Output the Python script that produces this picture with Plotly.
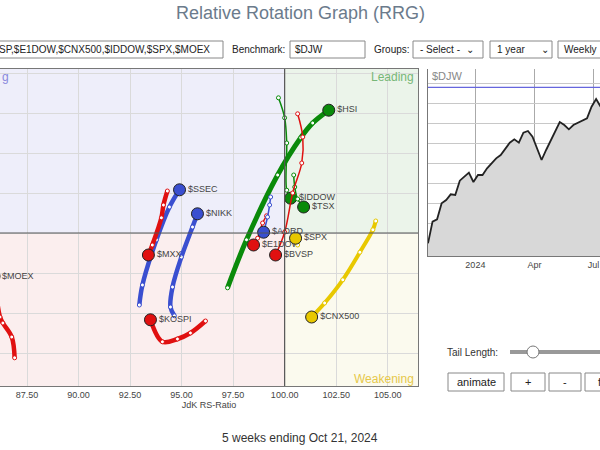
import plotly.graph_objects as go
import pandas as pd

# ---- RRG data (oldest -> newest, last is the head) ----
series = {
 "$HSI":   ([97.23,98.15,99.66,100.78,101.36,102.14],[98.63,99.83,101.45,102.38,102.75,103.07],"#0a8a0a",5),
 "$IDDOW": ([99.7,100.0,100.1,100.1,100.29],[103.38,102.88,102.25,101.07,100.87],"#0a8a0a",1.5),
 "$TSX":   ([100.44,100.49,100.63,100.92],[101.45,101.15,100.85,100.65],"#0a8a0a",1.5),
 "$BVSP":  ([100.63,100.88,100.83,100.39,100.0,99.56],[102.98,102.4,101.75,101.0,100.02,99.45],"#e01010",1.5),
 "$E1DOW": ([99.12,98.93,98.69,98.49],[100.43,100.25,99.87,99.7],"#e01010",1.5),
 "$AORD":  ([99.32,99.27,99.17,98.98],[100.9,100.7,100.4,100.02],"#3a4fd0",1.5),
 "$SPX":   ([100.63,100.53],[99.7,99.87],"#e8c800",1.5),
 "$CNX500":([104.42,104.28,103.65,102.82,101.94,101.31],[100.3,100.08,99.52,98.83,98.25,97.9],"#e8c800",4),
 "$SSEC":  ([92.95,93.1,93.78,94.41,94.9],[98.2,98.7,99.83,100.65,101.08],"#3a4fd0",4.5),
 "$NIKK":  ([94.65,94.46,94.56,94.99,95.53,95.77],[97.93,98.15,98.65,99.4,100.15,100.48],"#3a4fd0",4.5),
 "$MXX":   ([94.31,94.12,94.02,93.58,93.39],[101.05,100.7,100.38,99.7,99.45],"#e01010",4.5),
 "$KOSPI": ([96.16,95.43,94.8,94.07,93.49],[97.8,97.5,97.35,97.28,97.83],"#e01010",4.5),
 "$MOEX":  ([86.9,86.76,86.33,86.19,85.9],[96.88,97.4,97.75,97.9,98.92],"#e01010",4.5),
}

# ---- benchmark $DJW ----
djw_values = [4.0,10.5,11.2,16.0,17.0,18.7,18.5,22.8,24.0,25.2,22.4,24.5,24.5,26.5,28.0,29.5,30.5,
              32.5,34.2,35.2,34.2,37.2,37.7,36.0,32.5,29.0,32.0,34.7,37.5,40.4,39.5,38.2,39.5,40.2,
              41.0,41.5,45.0,47.3,45.0]
djw_dates = pd.date_range("2023-10-20", periods=len(djw_values), freq="7D")

def px(x): return x/600
def py(y): return 1-y/450

fig = go.Figure()
XR = [86.19, 106.47]; YR = [96.175, 104.1]
quad = [(XR[0],100,100,YR[1],"#eeeefa"),(100,100,XR[1],YR[1],"#ebf4ea"),
        (XR[0],YR[0],100,100,"#fbeeee"),(100,YR[0],XR[1],100,"#fbfaee")]
for x0,y0,x1,y1,c in quad:
    fig.add_shape(type="rect",xref="x",yref="y",x0=x0,y0=y0,x1=x1,y1=y1,fillcolor=c,line_width=0,layer="below")
fig.add_shape(type="line",xref="x",yref="y",x0=100,x1=100,y0=YR[0],y1=YR[1],line=dict(color="#555",width=1.2))
fig.add_shape(type="line",xref="x",yref="y",x0=XR[0],x1=XR[1],y0=100,y1=100,line=dict(color="#555",width=1.2))

for name,(xs,ys,col,w) in series.items():
    fig.add_trace(go.Scatter(x=xs,y=ys,mode="lines+markers",line=dict(color=col,width=w,shape="spline"),
        marker=dict(size=4,color="white",line=dict(color=col,width=1)),showlegend=False,hoverinfo="skip"))
    fig.add_trace(go.Scatter(x=[xs[-1]],y=[ys[-1]],mode="markers+text",
        text=[name if name!="$MOEX" else ""],textposition="middle right",
        textfont=dict(size=9,color="#444"),marker=dict(size=12,color=col,line=dict(color="#222",width=1)),
        showlegend=False,cliponaxis=True))
fig.add_annotation(x=XR[0],y=series["$MOEX"][1][-1],text="$MOEX",showarrow=False,xanchor="left",
                   font=dict(size=9,color="#444"))

fig.add_trace(go.Scatter(x=djw_dates,y=djw_values,mode="lines",line=dict(color="#222",width=1.8),
    fill="tozeroy",fillcolor="#d8d8d8",xaxis="x2",yaxis="y2",showlegend=False))
fig.add_shape(type="line",xref="x2 domain",yref="y2",x0=0,x1=1,y0=50.8,y1=50.8,line=dict(color="#6666dd",width=1.2))

fig.update_layout(width=600,height=450,margin=dict(l=0,r=0,t=0,b=0),paper_bgcolor="white",
    plot_bgcolor="white",font=dict(family="Liberation Sans, Arial",color="#444"),
    xaxis=dict(domain=[0,px(418)],range=XR,tickvals=[87.5,90,92.5,95,97.5,100,102.5,105],tickformat=".2f",
        gridcolor="#dadada",zeroline=False,showline=True,linecolor="#777",mirror=True,tickfont=dict(size=9),
        title=dict(text="JdK RS-Ratio",font=dict(size=9),standoff=2)),
    yaxis=dict(domain=[py(386),py(69)],range=YR,dtick=1,showticklabels=False,gridcolor="#dadada",zeroline=False,
        showline=True,linecolor="#777",mirror=True),
    xaxis2=dict(domain=[px(428),1],range=["2023-10-20","2024-07-11"],anchor="y2",
        tickvals=["2024-01-01","2024-04-01","2024-07-01"],ticktext=["2024","Apr","Jul"],tickfont=dict(size=9),
        gridcolor="#aaa",showline=True,linecolor="#777",zeroline=False),
    yaxis2=dict(domain=[py(256),py(69)],range=[0.2,56.3],anchor="x2",tick0=4,dtick=6,showticklabels=False,
        gridcolor="#c8c8c8",zeroline=False,showline=True,linecolor="#777"),
)

def ann(x,y,t,size=11,color="#444",xa="left",**k):
    fig.add_annotation(xref="paper",yref="paper",x=px(x),y=py(y),text=t,showarrow=False,xanchor=xa,
                       yanchor="middle",font=dict(size=size,color=color),**k)
def box(x0,y0,x1,y1):
    fig.add_shape(type="rect",xref="paper",yref="paper",x0=px(x0),x1=px(x1),y0=py(y1),y1=py(y0),
                  line=dict(color="#888",width=1),fillcolor="white")

ann(300,13,"Relative Rotation Graph (RRG)",size=18,color="#6b7b8c",xa="center")
box(-5,41,223,58); ann(-3,49,"SP,$E1DOW,$CNX500,$IDDOW,$SPX,$MOEX",size=10,color="#222")
ann(230,49,"Benchmark:",size=10,color="#222")
box(290,41,365,58); ann(293,49,"$DJW",size=10,color="#222")
ann(372,49,"Groups:",size=10,color="#222")
box(413,41,483,58); ann(418,49,"- Select -  ⌄",size=10,color="#222")
box(490,41,552,58); ann(495,49,"1 year      ⌄",size=10,color="#222")
box(558,41,605,58); ann(562,49,"Weekly",size=10,color="#222")

ann(0,77,"g",size=12,color="#8888dd")
ann(416,77,"Leading",size=12,color="#77b777",xa="right")
ann(416,379,"Weakening",size=12,color="#e6c84a",xa="right")
ann(430,76,"$DJW",size=11,color="#888")

ann(445,352,"Tail Length:",size=10,color="#333")
fig.add_shape(type="line",xref="paper",yref="paper",x0=px(510),x1=px(600),y0=py(352),y1=py(352),
              line=dict(color="#999",width=4))
fig.add_shape(type="circle",xref="paper",yref="paper",x0=px(527),x1=px(539),y0=py(358),y1=py(346),
              line=dict(color="#777",width=1),fillcolor="white")
for x,t,w in [(448,"animate",56),(511,"+",34),(549,"-",32),(585,"f",30)]:
    box(x,373,x+w,391); ann(x+w/2,382,t,size=11,color="#222",xa="center")

ann(300,438,"5 weeks ending Oct 21, 2024",size=12,color="#333",xa="center")
fig.write_html("out.html", config={"displayModeBar": False},
               post_script="document.body.style.margin='0';document.body.style.overflow='hidden';")
